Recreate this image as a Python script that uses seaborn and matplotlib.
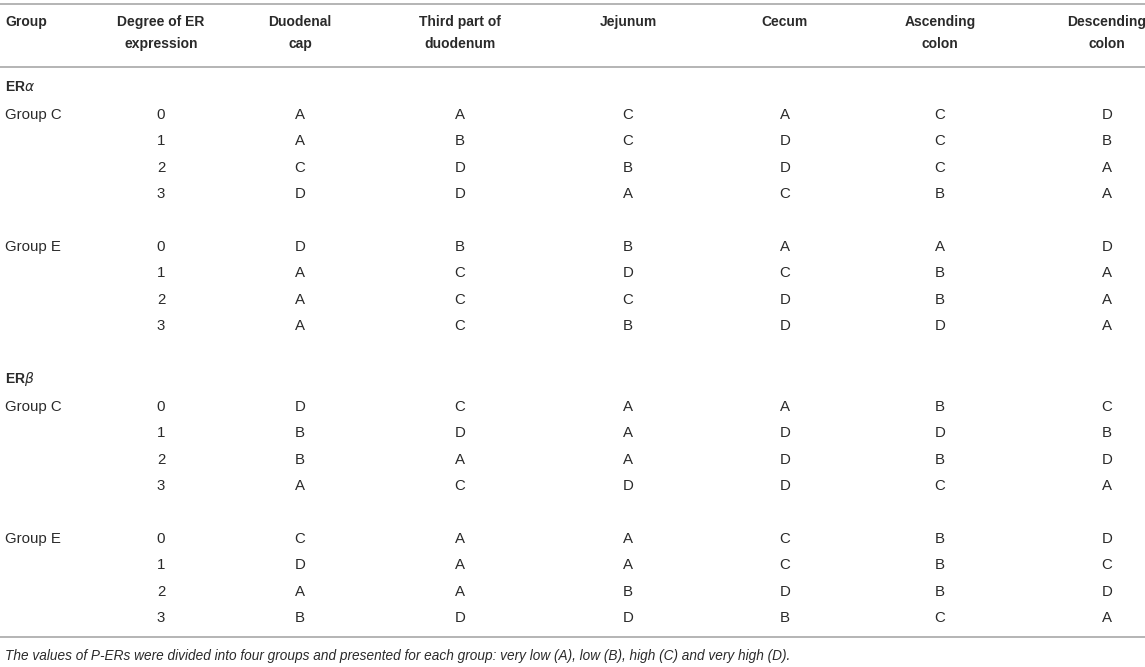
import numpy as np
import pandas as pd
import seaborn as sns
import matplotlib.pyplot as plt

columns = ["Group", "Degree of ER\nexpression", "Duodenal\ncap", "Third part of\nduodenum",
           "Jejunum", "Cecum", "Ascending\ncolon", "Descending\ncolon"]
sites = ["Duodenal cap", "Third part of duodenum", "Jejunum", "Cecum", "Ascending colon", "Descending colon"]
receptors = ["ER$\\alpha$", "ER$\\beta$"]
groups = ["Group C", "Group E"]
degrees = ["0", "1", "2", "3"]

era_c = [["A", "A", "C", "A", "C", "D"],
         ["A", "B", "C", "D", "C", "B"],
         ["C", "D", "B", "D", "C", "A"],
         ["D", "D", "A", "C", "B", "A"]]
era_e = [["D", "B", "B", "A", "A", "D"],
         ["A", "C", "D", "C", "B", "A"],
         ["A", "C", "C", "D", "B", "A"],
         ["A", "C", "B", "D", "D", "A"]]
erb_c = [["D", "C", "A", "A", "B", "C"],
         ["B", "D", "A", "D", "D", "B"],
         ["B", "A", "A", "D", "B", "D"],
         ["A", "C", "D", "D", "C", "A"]]
erb_e = [["C", "A", "A", "C", "B", "D"],
         ["D", "A", "A", "C", "B", "C"],
         ["A", "A", "B", "D", "B", "D"],
         ["B", "D", "D", "B", "C", "A"]]

footnote = ("The values of P-ERs were divided into four groups and presented for each group: "
            "very low (A), low (B), high (C) and very high (D).")

blocks = {("ER$\\alpha$", "Group C"): era_c, ("ER$\\alpha$", "Group E"): era_e,
          ("ER$\\beta$", "Group C"): erb_c, ("ER$\\beta$", "Group E"): erb_e}

sns.set_theme(style="white")
plt.rcParams['font.family'] = ['Liberation Sans', 'DejaVu Sans']
plt.rcParams['mathtext.fontset'] = 'dejavusans'

fig = plt.figure(figsize=(11.45, 6.67), dpi=100)
ax = fig.add_axes([0, 0, 1, 1])
ax.set_xlim(0, 1145)
ax.set_ylim(667, 0)
ax.axis("off")

txt = "#2a2a2a"
line_c = "#b4b4b4"
fs = 10.8
col_x = [5, 161, 300, 460, 628, 785, 940, 1107]

# header, lines placed one by one and aligned to the top
for i, c in enumerate(columns):
    ha = "left" if i == 0 else "center"
    for k, part in enumerate(c.split("\n")):
        ax.text(col_x[i], 22 + k * 22, part, ha=ha, va="center", fontsize=10,
                fontweight="bold", color=txt)

for y in (4, 67, 637):
    ax.plot([0, 1145], [y, y], color=line_c, lw=1.4, solid_capstyle="butt")

y_sec = {"ER$\\alpha$": 87, "ER$\\beta$": 379}
for r in receptors:
    y0 = y_sec[r]
    ax.text(5, y0, r, ha="left", va="center", fontsize=10, fontweight="bold", color=txt)
    for g_i, g in enumerate(groups):
        base = y0 + 28 + g_i * 132
        vals = blocks[(r, g)]
        ax.text(5, base, g, ha="left", va="center", fontsize=fs, color=txt)
        for d_i, d in enumerate(degrees):
            y = base + d_i * 26.4
            ax.text(col_x[1], y, d, ha="center", va="center", fontsize=fs, color=txt)
            for s_i in range(len(sites)):
                ax.text(col_x[s_i + 2], y, vals[d_i][s_i], ha="center", va="center",
                        fontsize=fs, color=txt)

ax.text(5, 656, footnote, ha="left", va="center", fontsize=9.8, style="italic", color=txt)

fig.savefig("out.png", dpi=100)
